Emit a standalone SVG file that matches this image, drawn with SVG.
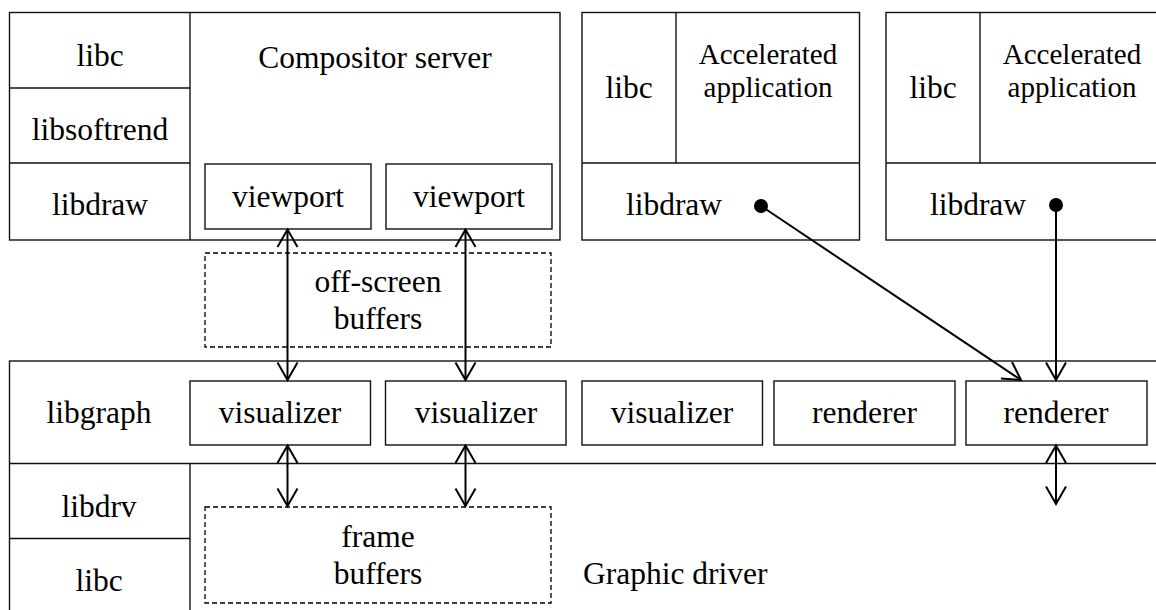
<svg xmlns="http://www.w3.org/2000/svg" width="1156" height="610" viewBox="0 0 1156 610">
  <style>
    .box { fill: #fff; stroke: #111; stroke-width: 1.4; }
    .div { fill: none; stroke: #111; stroke-width: 1.4; }
    .dash { fill: none; stroke: #000; stroke-width: 1.3; stroke-dasharray: 5 3; }
    .t { font-family: "Liberation Serif", "Times New Roman", serif; font-size: 31.5px; fill: #000; text-anchor: middle; }
    .ts { font-family: "Liberation Serif", "Times New Roman", serif; font-size: 29px; fill: #000; text-anchor: middle; }
    .wire { fill: none; stroke: #000; stroke-width: 2; }
    .dot { fill: #000; }
  </style>
  <defs>
    <marker id="open" viewBox="0 0 22 22" refX="20" refY="11" markerWidth="22" markerHeight="22" markerUnits="userSpaceOnUse" orient="auto-start-reverse" overflow="visible">
      <path d="M2.5,1 L20,11 L2.5,21" fill="none" stroke="#000" stroke-width="2"/>
    </marker>
  </defs>

  <!-- Compositor server process -->
  <g id="compositor">
    <rect class="box" x="9.5" y="12.5" width="550.5" height="227.5"/>
    <line class="div" x1="190" y1="12.5" x2="190" y2="240"/>
    <line class="div" x1="9.5" y1="88" x2="190" y2="88"/>
    <line class="div" x1="9.5" y1="163" x2="190" y2="163"/>
    <text class="t" x="100" y="66">libc</text>
    <text class="t" x="100" y="140">libsoftrend</text>
    <text class="t" x="100" y="215">libdraw</text>
    <text class="t" x="375" y="68">Compositor server</text>
  </g>
  <g id="viewport1">
    <rect class="box" x="205" y="164" width="166" height="65"/>
    <text class="t" x="288" y="207">viewport</text>
  </g>
  <g id="viewport2">
    <rect class="box" x="386" y="164" width="166" height="65"/>
    <text class="t" x="469" y="207">viewport</text>
  </g>

  <!-- Accelerated applications -->
  <g id="app1">
    <rect class="box" x="582" y="12.5" width="277.5" height="227.5"/>
    <line class="div" x1="676" y1="12.5" x2="676" y2="163"/>
    <line class="div" x1="582" y1="163" x2="859.5" y2="163"/>
    <text class="t" x="629" y="98">libc</text>
    <text class="ts" x="768" y="64">Accelerated</text>
    <text class="ts" x="768" y="97">application</text>
    <text class="t" x="674" y="215">libdraw</text>
  </g>
  <g id="app2">
    <rect class="box" x="886" y="12.5" width="280" height="227.5"/>
    <line class="div" x1="980" y1="12.5" x2="980" y2="163"/>
    <line class="div" x1="886" y1="163" x2="1166" y2="163"/>
    <text class="t" x="933" y="98">libc</text>
    <text class="ts" x="1072" y="64">Accelerated</text>
    <text class="ts" x="1072" y="97">application</text>
    <text class="t" x="978" y="215">libdraw</text>
  </g>

  <!-- Off-screen buffers -->
  <g id="offscreen">
    <rect class="dash" x="205" y="253" width="346" height="94"/>
    <text class="t" x="378" y="292">off-screen</text>
    <text class="t" x="378" y="329">buffers</text>
  </g>

  <!-- Graphic driver process -->
  <g id="driver">
    <rect class="box" x="9.5" y="361" width="1160" height="260"/>
    <line class="div" x1="9.5" y1="463.5" x2="1166" y2="463.5"/>
    <line class="div" x1="190" y1="463.5" x2="190" y2="620"/>
    <line class="div" x1="9.5" y1="538.5" x2="190" y2="538.5"/>
    <text class="t" x="99" y="423">libgraph</text>
    <text class="t" x="99" y="517">libdrv</text>
    <text class="t" x="99" y="591">libc</text>
    <text class="t" x="583" y="584" style="text-anchor:start">Graphic driver</text>
  </g>
  <g id="visualizer1">
    <rect class="box" x="190" y="381" width="180.5" height="64"/>
    <text class="t" x="280" y="423">visualizer</text>
  </g>
  <g id="visualizer2">
    <rect class="box" x="385.5" y="381" width="180.5" height="64"/>
    <text class="t" x="476" y="423">visualizer</text>
  </g>
  <g id="visualizer3">
    <rect class="box" x="582" y="381" width="180.5" height="64"/>
    <text class="t" x="672" y="423">visualizer</text>
  </g>
  <g id="renderer1">
    <rect class="box" x="774" y="381" width="181" height="64"/>
    <text class="t" x="864.5" y="423">renderer</text>
  </g>
  <g id="renderer2">
    <rect class="box" x="966" y="381" width="181" height="64"/>
    <text class="t" x="1056" y="423">renderer</text>
  </g>

  <!-- Frame buffers -->
  <g id="framebuffers">
    <rect class="dash" x="205" y="507" width="346" height="96"/>
    <text class="t" x="378" y="547">frame</text>
    <text class="t" x="378" y="584">buffers</text>
  </g>

  <!-- Connectors -->
  <g id="connectors">
    <line class="wire" x1="287.5" y1="229.5" x2="287.5" y2="380" marker-start="url(#open)" marker-end="url(#open)"/>
    <line class="wire" x1="465.5" y1="229.5" x2="465.5" y2="380" marker-start="url(#open)" marker-end="url(#open)"/>
    <line class="wire" x1="287.5" y1="445.5" x2="287.5" y2="506" marker-start="url(#open)" marker-end="url(#open)"/>
    <line class="wire" x1="465.5" y1="445.5" x2="465.5" y2="506" marker-start="url(#open)" marker-end="url(#open)"/>
    <line class="wire" x1="1056" y1="445.5" x2="1056" y2="504" marker-start="url(#open)" marker-end="url(#open)"/>
    <circle class="dot" cx="761" cy="206" r="7"/>
    <line class="wire" x1="761" y1="206" x2="1021" y2="380" marker-end="url(#open)"/>
    <circle class="dot" cx="1056" cy="205" r="7"/>
    <line class="wire" x1="1056" y1="205" x2="1056" y2="380" marker-end="url(#open)"/>
  </g>
</svg>
